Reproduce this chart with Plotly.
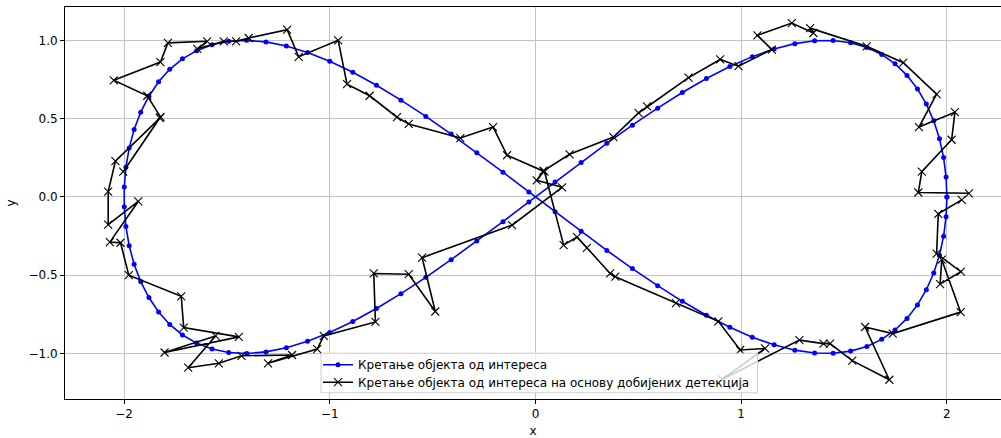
import plotly.graph_objects as go

# Reference trajectory (figure-eight), 100 samples
X_TRUE = [2.000, 1.996, 1.984, 1.964, 1.936, 1.900, 1.857, 1.806, 1.748, 1.683,
          1.611, 1.532, 1.447, 1.357, 1.261, 1.160, 1.054, 0.945, 0.831, 0.714,
          0.594, 0.471, 0.347, 0.222, 0.095, -0.032, -0.158, -0.285, -0.410, -0.533,
          -0.654, -0.773, -0.888, -1.000, -1.108, -1.211, -1.310, -1.403, -1.491, -1.572,
          -1.647, -1.716, -1.778, -1.832, -1.879, -1.919, -1.951, -1.975, -1.991, -1.999,
          -1.999, -1.991, -1.975, -1.951, -1.919, -1.879, -1.832, -1.778, -1.716, -1.647,
          -1.572, -1.491, -1.403, -1.310, -1.211, -1.108, -1.000, -0.888, -0.773, -0.654,
          -0.533, -0.410, -0.285, -0.158, -0.032, 0.095, 0.222, 0.347, 0.471, 0.594,
          0.714, 0.831, 0.945, 1.054, 1.160, 1.261, 1.357, 1.447, 1.532, 1.611,
          1.683, 1.748, 1.806, 1.857, 1.900, 1.936, 1.964, 1.984, 1.996, 2.000]
Y_TRUE = [0.000, 0.127, 0.251, 0.372, 0.486, 0.593, 0.690, 0.776, 0.850, 0.910,
          0.955, 0.985, 0.999, 0.997, 0.979, 0.945, 0.896, 0.833, 0.756, 0.667,
          0.567, 0.458, 0.342, 0.220, 0.095, -0.032, -0.158, -0.282, -0.401, -0.514,
          -0.618, -0.713, -0.796, -0.866, -0.922, -0.964, -0.990, -1.000, -0.994, -0.972,
          -0.934, -0.882, -0.815, -0.735, -0.643, -0.541, -0.430, -0.312, -0.189, -0.063,
          0.063, 0.189, 0.312, 0.430, 0.541, 0.643, 0.735, 0.815, 0.882, 0.934,
          0.972, 0.994, 1.000, 0.990, 0.964, 0.922, 0.866, 0.796, 0.713, 0.618,
          0.514, 0.401, 0.282, 0.158, 0.032, -0.095, -0.220, -0.342, -0.458, -0.567,
          -0.667, -0.756, -0.833, -0.896, -0.945, -0.979, -0.997, -0.999, -0.985, -0.955,
          -0.910, -0.850, -0.776, -0.690, -0.593, -0.486, -0.372, -0.251, -0.127, 0.000]

# Positions recovered from the detections, in time order
X_DET = [2.107, 1.861, 1.878, 2.023, 2.039, 1.864, 1.950, 1.788, 1.610, 1.335,
         1.351, 1.246, 1.079, 1.149, 0.987, 0.898, 0.744, 0.542, 0.501, 0.379,
         0.166, 0.039, 0.006, 0.129, -0.114, -0.551, -0.487, -0.616, -0.786, -0.778,
         -1.029, -1.061, -1.300, -1.183, -1.429, -1.539, -1.688, -1.555, -1.803, -1.442,
         -1.710, -1.722, -1.977, -2.017, -2.069, -1.931, -2.077, -2.077, -2.042, -1.826,
         -2.004, -1.823, -1.887, -2.050, -1.823, -1.787, -1.596, -1.644, -1.515, -1.455,
         -1.394, -1.207, -1.151, -0.959, -0.916, -0.806, -0.673, -0.616, -0.365, -0.206,
         -0.138, 0.044, 0.137, 0.202, 0.250, 0.363, 0.388, 0.683, 0.889, 0.995,
         1.116, 0.907, 1.283, 1.400, 1.432, 1.540, 1.720, 1.602, 1.737, 2.067,
         1.975, 1.967, 2.068, 1.950, 1.958, 2.072]
Y_DET = [0.023, 0.028, 0.161, 0.365, 0.541, 0.446, 0.656, 0.857, 0.962, 1.078,
         1.047, 1.110, 1.032, 0.941, 0.835, 0.878, 0.762, 0.578, 0.536, 0.382,
         0.272, 0.167, 0.106, 0.061, -0.181, -0.388, -0.732, -0.494, -0.489, -0.799,
         -0.888, -0.972, -1.063, -1.010, -1.015, -1.063, -1.091, -0.888, -0.994, -0.894,
         -0.835, -0.635, -0.500, -0.293, -0.289, -0.029, -0.177, 0.034, 0.228, 0.503,
         0.161, 0.511, 0.646, 0.745, 0.861, 0.984, 0.994, 0.946, 0.994, 0.994,
         1.015, 1.068, 0.895, 1.000, 0.720, 0.646, 0.509, 0.466, 0.376, 0.446,
         0.266, 0.161, -0.308, -0.257, -0.325, -0.489, -0.510, -0.679, -0.795, -0.978,
         -0.968, -1.166, -0.915, -0.937, -0.937, -1.046, -1.168, -0.831, -0.873, -0.736,
         -0.401, -0.557, -0.478, -0.363, -0.108, -0.019]

X_TICKS = [-2, -1, 0, 1, 2]
Y_TICKS = [-1.0, -0.5, 0.0, 0.5, 1.0]

NAME_TRUE = "Кретање објекта од интереса"
NAME_DET = "Кретање објекта од интереса на основу добијених детекција"

FONT = "DejaVu Sans"
TXT = dict(family=FONT, size=12, color="#000000")

fig = go.Figure()
fig.add_trace(go.Scatter(
    x=X_TRUE, y=Y_TRUE, mode="lines+markers", name=NAME_TRUE,
    line=dict(color="#0000ff", width=1.6),
    marker=dict(color="#0000ff", size=5),
    legend="legend",
))
fig.add_trace(go.Scatter(
    x=X_DET, y=Y_DET, mode="lines+markers", name=NAME_DET,
    line=dict(color="#000000", width=1.6),
    marker=dict(symbol="x-thin", size=8, color="#000000",
                line=dict(color="#000000", width=1.1)),
    legend="legend2",
))

axis_common = dict(
    showgrid=True, gridcolor="#c4c4c4", gridwidth=1,
    zeroline=False, showline=True, linecolor="#000000", linewidth=1,
    ticks="outside", ticklen=4, tickcolor="#000000", tickwidth=1,
    tickfont=TXT,
)

fig.update_xaxes(
    range=[-2.287, 2.263], tickvals=X_TICKS, mirror=True,
    title=dict(text="x", font=TXT, standoff=8),
    **axis_common,
)
fig.update_yaxes(
    range=[-1.291, 1.213], tickvals=Y_TICKS, tickformat=".1f",
    title=dict(text="y", font=TXT, standoff=10),
    **axis_common,
)

# Legend frame: semi-transparent white box drawn over the data
fig.add_shape(
    type="rect", xref="paper", yref="paper",
    x0=0.2735, x1=0.7399, y0=0.0159, y1=0.1169,
    fillcolor="rgba(255,255,255,0.8)", line=dict(color="#d0d0d0", width=1),
    layer="above",
)

legend_common = dict(
    xanchor="left", yanchor="middle", bgcolor="rgba(0,0,0,0)",
    borderwidth=0, font=TXT, itemwidth=30,
)

fig.update_layout(
    width=1001, height=438,
    margin=dict(l=65, r=0, t=7, b=35),
    plot_bgcolor="#ffffff", paper_bgcolor="#ffffff",
    font=TXT,
    legend=dict(x=0.2703, y=0.0874, **legend_common),
    legend2=dict(x=0.2703, y=0.0429, **legend_common),
    showlegend=True,
)

fig.write_html("out.html")
